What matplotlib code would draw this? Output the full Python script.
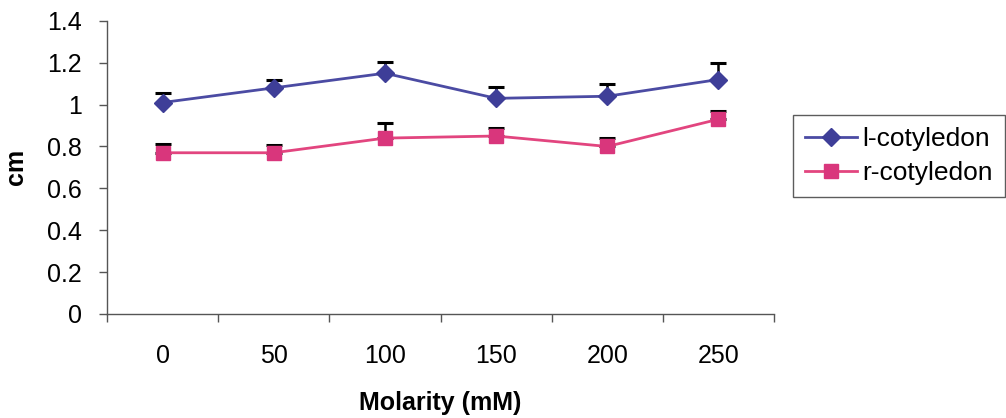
import numpy as np
import matplotlib
matplotlib.use("Agg")
import matplotlib.pyplot as plt

plt.rcParams['font.family'] = ['Liberation Sans', 'DejaVu Sans']

# data
molarity = ['0', '50', '100', '150', '200', '250']
l_cot = [1.01, 1.08, 1.15, 1.03, 1.04, 1.12]
l_err = [0.045, 0.04, 0.055, 0.055, 0.06, 0.08]
r_cot = [0.77, 0.77, 0.84, 0.85, 0.80, 0.93]
r_err = [0.04, 0.035, 0.07, 0.04, 0.04, 0.04]

fig = plt.figure(figsize=(10.06, 4.18), dpi=100)
ax = fig.add_axes([0.1064, 0.249, 0.663, 0.701])

x = np.arange(len(molarity))

# upper error bars only
ax.errorbar(x, l_cot, yerr=[np.zeros(len(l_err)), l_err], fmt='none',
            ecolor='black', elinewidth=1.8, capsize=6, capthick=2.2, zorder=2)
ax.errorbar(x, r_cot, yerr=[np.zeros(len(r_err)), r_err], fmt='none',
            ecolor='black', elinewidth=1.8, capsize=6, capthick=2.2, zorder=2)

ax.plot(x, l_cot, color='#4b4ba3', lw=2, marker='D', ms=9,
        mfc='#3e3e98', mec='#3e3e98', label='l-cotyledon', zorder=3)
ax.plot(x, r_cot, color='#e2457f', lw=2, marker='s', ms=10,
        mfc='#d9367c', mec='#d9367c', label='r-cotyledon', zorder=3)

ax.set_xlim(-0.5, 5.5)
ax.set_ylim(0, 1.4)
ax.set_yticks(np.arange(0, 1.41, 0.2))
ax.set_yticklabels(['0', '0.2', '0.4', '0.6', '0.8', '1', '1.2', '1.4'])

# category axis: labels at centres, ticks between categories
ax.set_xticks(x)
ax.set_xticklabels(molarity)
ax.set_xticks(np.arange(-0.5, 6.0, 1.0), minor=True)
ax.tick_params(axis='x', which='major', length=0, pad=22, labelsize=18)
ax.tick_params(axis='x', which='minor', length=6, width=1, color='#555555')
ax.tick_params(axis='y', length=6, width=1, color='#555555', labelsize=18, pad=12)

for s in ['top', 'right']:
    ax.spines[s].set_visible(False)
for s in ['left', 'bottom']:
    ax.spines[s].set_color('#555555')
    ax.spines[s].set_linewidth(1)

ax.set_xlabel('Molarity (mM)', fontsize=18, fontweight='bold', labelpad=16)
ax.set_ylabel('cm', fontsize=18, fontweight='bold', labelpad=14)

leg = fig.legend(loc='upper left', bbox_to_anchor=(0.788, 0.725),
                 fontsize=19, frameon=True, fancybox=False, edgecolor='#333333',
                 handlelength=2.0, handletextpad=0.2, borderpad=0.45,
                 labelspacing=0.4, borderaxespad=0)
leg.get_frame().set_linewidth(1)

fig.savefig('out.png', dpi=100)
